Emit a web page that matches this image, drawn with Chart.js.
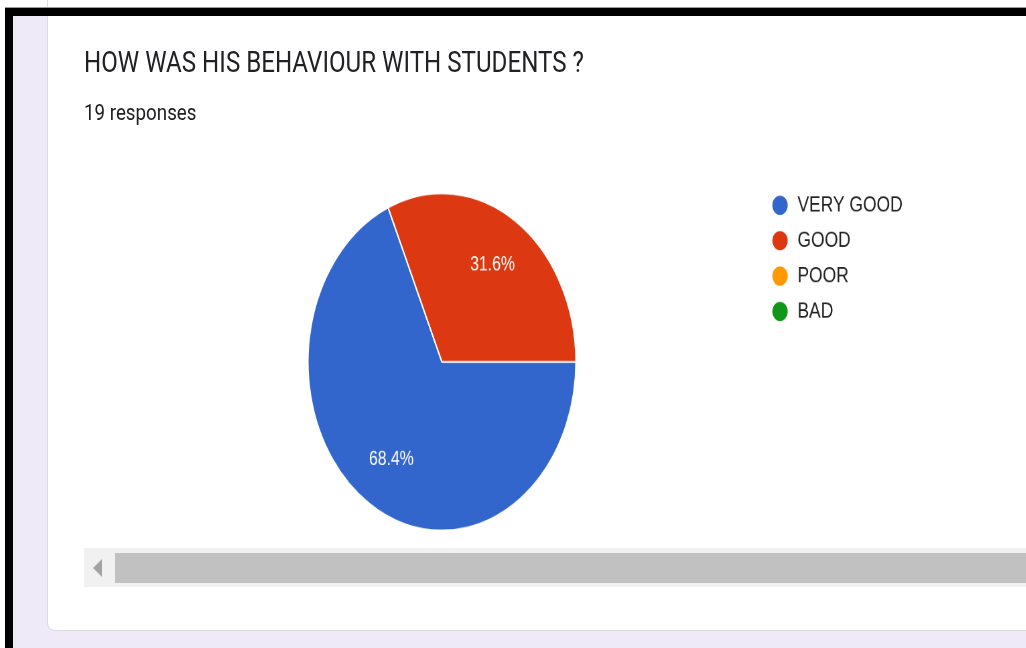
<!DOCTYPE html>
<html>
<head>
<meta charset="utf-8">
<script src="https://cdn.jsdelivr.net/npm/chart.js@4"></script>
<style>
  html, body { margin: 0; padding: 0; }
  body { width: 1026px; height: 648px; overflow: hidden; background: #ffffff; position: relative; }
  #bg { position: absolute; left: 13px; top: 16px; width: 1013px; height: 632px; background: #eeeaf8; }
  #card { position: absolute; left: 47px; top: -20px; width: 1010px; height: 651px; background: #ffffff;
          border: 1px solid #dadce0; border-radius: 8px; box-sizing: border-box; }
  #track { position: absolute; left: 84px; top: 548px; width: 942px; height: 39px; background: #f1f1f1; }
  #thumb { position: absolute; left: 115px; top: 553px; width: 911px; height: 30px; background: #c1c1c1; }
  #arrow { position: absolute; left: 93px; top: 559px; width: 0; height: 0;
           border-right: 9px solid #a3a3a3; border-top: 9px solid transparent; border-bottom: 9px solid transparent; }
  #content { position: absolute; left: 0; top: 0; width: 766px; height: 385px;
             transform-origin: 0 0; transform: scale(1.34, 1.685); }
  #title { position: absolute; left: 62.7px; top: 27.6px; font: 18px/18px Roboto, sans-serif; color: #202124; white-space: nowrap; }
  #subtitle { position: absolute; left: 62.7px; top: 59.4px; font: 14px/14px Roboto, sans-serif; color: #202124; white-space: nowrap;
              transform-origin: 0 11.8px; transform: scaleY(0.9); }
  #chartBox { position: absolute; left: 0; top: 90px; width: 700px; height: 250px; }
  #frameTop { position: absolute; left: 5px; top: 8px; width: 1021px; height: 8px; background: #000; box-shadow: 0 -1px 0 #9a9a9a; }
  #frameLeft { position: absolute; left: 5px; top: 8px; width: 8px; height: 640px; background: #000; }
</style>
</head>
<body>
<div id="bg"></div>
<div id="card"></div>
<div id="track"></div>
<div id="thumb"></div>
<div id="arrow"></div>
<div id="content">
  <div id="title"></div>
  <div id="subtitle"></div>
  <div id="chartBox"><canvas id="chart"></canvas></div>
</div>
<div id="frameTop"></div>
<div id="frameLeft"></div>
<script>
const titleText = 'HOW WAS HIS BEHAVIOUR WITH STUDENTS ?';
const subtitleText = '19 responses';
const categories = ['VERY GOOD', 'GOOD', 'POOR', 'BAD'];
const responses = [13, 6, 0, 0];
const sliceColors = ['#3366cc', '#dc3912', '#ff9900', '#109618'];

document.getElementById('title').textContent = titleText;
document.getElementById('subtitle').textContent = subtitleText;

const percentLabels = {
  id: 'percentLabels',
  afterDatasetsDraw(chart) {
    const ctx = chart.ctx;
    const meta = chart.getDatasetMeta(0);
    const data = chart.data.datasets[0].data;
    const total = data.reduce((a, b) => a + b, 0);
    ctx.save();
    ctx.fillStyle = '#ffffff';
    ctx.font = '11.8px "Liberation Sans", Arial, sans-serif';
    ctx.textAlign = 'center';
    ctx.textBaseline = 'middle';
    meta.data.forEach((arc, i) => {
      if (!data[i]) return;
      const p = arc.getProps(['x', 'y', 'startAngle', 'endAngle', 'outerRadius'], true);
      const mid = (p.startAngle + p.endAngle) / 2;
      const r = p.outerRadius * 0.69;
      ctx.fillText((data[i] / total * 100).toFixed(1) + '%', p.x + Math.cos(mid) * r, p.y + Math.sin(mid) * r);
    });
    ctx.restore();
  }
};

new Chart(document.getElementById('chart'), {
  type: 'pie',
  data: {
    labels: categories,
    datasets: [{
      data: responses,
      backgroundColor: sliceColors,
      borderColor: '#ffffff',
      borderWidth: 1,
      hoverOffset: 0,
      offset: 0,
      radius: 100,
      rotation: 90
    }]
  },
  options: {
    responsive: true,
    maintainAspectRatio: false,
    animation: false,
    events: [],
    devicePixelRatio: 2,
    layout: { padding: { left: 92.0, top: 17.3, right: 16.4, bottom: 17.7 } },
    plugins: {
      tooltip: { enabled: false },
      legend: {
        position: 'right',
        align: 'start',
        labels: {
          usePointStyle: true,
          pointStyle: 'circle',
          boxWidth: 13,
          boxHeight: 8.8,
          padding: 8,
          color: '#222222',
          font: { family: '"Liberation Sans", Arial, sans-serif', size: 13 }
        }
      }
    }
  },
  plugins: [percentLabels]
});
</script>
</body>
</html>
